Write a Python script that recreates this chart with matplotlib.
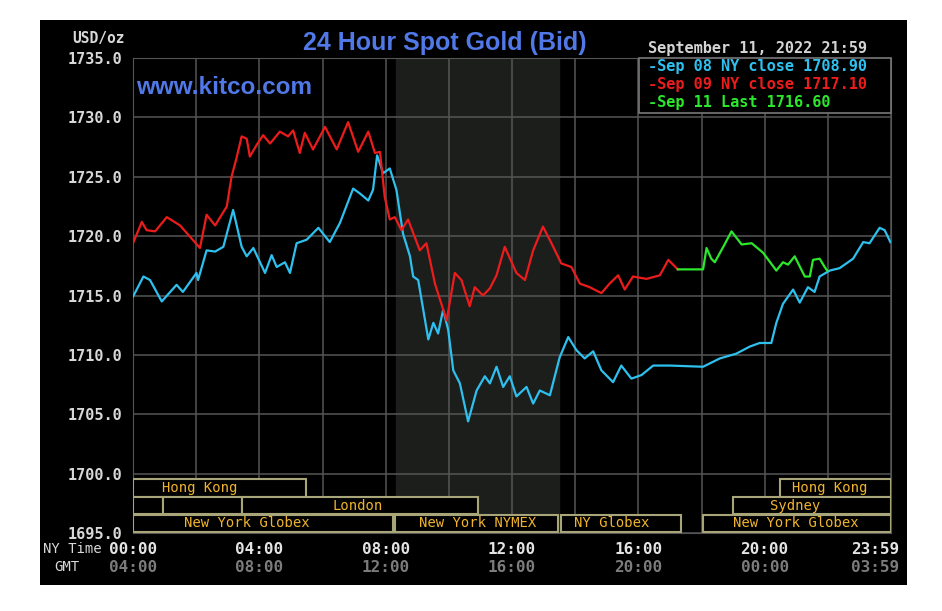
import matplotlib
matplotlib.use("Agg")
import matplotlib.pyplot as plt
from matplotlib.patches import Rectangle

# Sep 08 NY close (cyan), hours NY time / price
sep08_hours = [0.0, 0.33, 0.54, 0.91, 1.38, 1.58, 2.01, 2.06, 2.33, 2.6, 2.86, 3.17, 3.44, 3.6,
               3.81, 4.18, 4.39, 4.55, 4.81, 4.97, 5.18, 5.5, 5.87, 6.23, 6.55, 6.97, 7.18, 7.45,
               7.6, 7.73, 7.92, 8.13, 8.34, 8.55, 8.77, 8.87, 9.03, 9.35, 9.51, 9.66, 9.82, 9.98,
               10.14, 10.35, 10.61, 10.88, 11.14, 11.3, 11.51, 11.72, 11.93, 12.14, 12.46, 12.67,
               12.88, 13.2, 13.51, 13.78, 14.04, 14.3, 14.57, 14.83, 15.2, 15.46, 15.78, 16.1,
               16.47, 17.0, 18.05, 18.58, 19.1, 19.53, 19.84, 20.21, 20.37, 20.58, 20.9, 21.11,
               21.37, 21.58, 21.74, 22.06, 22.37, 22.64, 22.8, 23.12, 23.32, 23.64, 23.8, 23.98]
sep08_price = [1714.9, 1716.6, 1716.3, 1714.5, 1715.9, 1715.3, 1716.9, 1716.3, 1718.8, 1718.7,
               1719.1, 1722.2, 1719.1, 1718.3, 1719.0, 1716.9, 1718.4, 1717.4, 1717.8, 1716.9,
               1719.4, 1719.7, 1720.7, 1719.5, 1721.1, 1724.0, 1723.6, 1723.0, 1723.9, 1726.8,
               1725.3, 1725.7, 1723.9, 1720.2, 1718.3, 1716.6, 1716.3, 1711.3, 1712.7, 1711.8,
               1713.8, 1712.1, 1708.7, 1707.6, 1704.4, 1707.0, 1708.2, 1707.6, 1709.0, 1707.3,
               1708.2, 1706.5, 1707.3, 1705.9, 1707.0, 1706.6, 1709.8, 1711.5, 1710.4, 1709.7,
               1710.3, 1708.7, 1707.7, 1709.1, 1708.0, 1708.3, 1709.1, 1709.1, 1709.0, 1709.7,
               1710.1, 1710.7, 1711.0, 1711.0, 1712.7, 1714.3, 1715.5, 1714.4, 1715.7, 1715.3,
               1716.6, 1717.1, 1717.3, 1717.8, 1718.1, 1719.5, 1719.4, 1720.7, 1720.5, 1719.5]

# Sep 09 NY close (red)
sep09_hours = [0.0, 0.28, 0.43, 0.7, 1.07, 1.49, 2.12, 2.33, 2.6, 2.97, 3.12, 3.28, 3.44, 3.6,
               3.7, 3.92, 4.12, 4.34, 4.65, 4.91, 5.07, 5.28, 5.44, 5.7, 6.08, 6.45, 6.81, 7.13,
               7.45, 7.66, 7.82, 7.97, 8.13, 8.29, 8.5, 8.71, 9.08, 9.29, 9.56, 9.93, 10.19, 10.4,
               10.66, 10.82, 11.08, 11.3, 11.51, 11.77, 12.14, 12.41, 12.67, 12.98, 13.25, 13.56,
               13.88, 14.15, 14.46, 14.83, 15.09, 15.36, 15.57, 15.83, 16.26, 16.68, 16.95, 17.25]
sep09_price = [1719.4, 1721.2, 1720.5, 1720.4, 1721.6, 1720.9, 1719.0, 1721.8, 1720.9, 1722.5,
               1725.0, 1726.6, 1728.4, 1728.2, 1726.7, 1727.7, 1728.5, 1727.8, 1728.8, 1728.4,
               1728.9, 1727.0, 1728.7, 1727.3, 1729.2, 1727.3, 1729.6, 1727.1, 1728.8, 1727.0,
               1727.1, 1723.3, 1721.4, 1721.6, 1720.5, 1721.4, 1718.8, 1719.4, 1716.0, 1712.9,
               1716.9, 1716.3, 1714.1, 1715.7, 1715.0, 1715.6, 1716.7, 1719.1, 1716.9, 1716.3,
               1718.8, 1720.8, 1719.4, 1717.7, 1717.4, 1716.0, 1715.7, 1715.2, 1716.0, 1716.7,
               1715.5, 1716.6, 1716.4, 1716.7, 1718.0, 1717.2]

# Sep 11 last (green)
sep11_hours = [17.25, 18.05, 18.16, 18.31, 18.42, 18.69, 18.95, 19.27, 19.59, 19.95, 20.37,
               20.58, 20.74, 20.95, 21.27, 21.43, 21.53, 21.74, 21.9, 21.98]
sep11_price = [1717.2, 1717.2, 1719.0, 1718.1, 1717.8, 1719.1, 1720.4, 1719.3, 1719.4, 1718.6,
               1717.1, 1717.8, 1717.6, 1718.3, 1716.6, 1716.6, 1718.0, 1718.1, 1717.4, 1717.1]

legend_labels = ["-Sep 08 NY close 1708.90", "-Sep 09 NY close 1717.10", "-Sep 11 Last 1716.60"]

# market sessions: row (0 = top), start hour, end hour, name
session_rows = [0, 0, 1, 1, 1, 1, 2, 2, 2, 2]
session_starts = [0.0, 20.5, 0.0, 0.95, 3.45, 19.0, 0.0, 8.3, 13.55, 18.05]
session_ends = [5.48, 24.0, 0.95, 3.45, 10.93, 24.0, 8.23, 13.46, 17.35, 24.0]
session_names = ["Hong Kong", "Hong Kong", "", "", "London", "Sydney",
                 "New York Globex", "New York NYMEX", "NY Globex", "New York Globex"]
session_label_x = [2.12, 22.07, 0, 0, 7.12, 20.96, 3.6, 10.9, 15.17, 21.0]

ny_ticks = [0, 4, 8, 12, 16, 20, 24]
ny_labels = ["00:00", "04:00", "08:00", "12:00", "16:00", "20:00", "23:59"]
gmt_labels = ["04:00", "08:00", "12:00", "16:00", "20:00", "00:00", "03:59"]

W, H = 942, 611


def fx(x):
    return x / W


def fy(y):
    return 1 - y / H


fig = plt.figure(figsize=(9.42, 6.11), dpi=100, facecolor="white")
fig.add_artist(Rectangle((fx(40), fy(585)), fx(907) - fx(40), fy(20) - fy(585),
                         transform=fig.transFigure, facecolor="black", edgecolor="none", zorder=0))

ax = fig.add_axes([fx(133), fy(533), fx(891) - fx(133), fy(58) - fy(533)])
ax.set_facecolor("black")
ax.set_xlim(0, 24)
ax.set_ylim(1695, 1735)

grid_col = "#555555"
ax.axvspan(8.33, 13.5, color="#1c1e1c", zorder=0)
for h in range(0, 25, 2):
    ax.axvline(h, color=grid_col, lw=1.1, zorder=1)
for v in range(1695, 1736, 5):
    ax.axhline(v, color=grid_col, lw=1.1, zorder=1)
for s in ax.spines.values():
    s.set_color(grid_col)

ax.plot(sep08_hours, sep08_price, color="#2ec0ee", lw=1.6, zorder=3)
ax.plot(sep09_hours, sep09_price, color="#ec1c1c", lw=1.6, zorder=3)
ax.plot(sep11_hours, sep11_price, color="#2ce82c", lw=1.6, zorder=4)

# session boxes
row_bounds = [(1698.05, 1699.55), (1696.6, 1698.0), (1695.1, 1696.55)]
for r, a, b, name, lx in zip(session_rows, session_starts, session_ends, session_names, session_label_x):
    lo, hi = row_bounds[r]
    ax.add_patch(Rectangle((a, lo), b - a, hi - lo, facecolor="black",
                           edgecolor="#a8a678", lw=1.5, zorder=5))
    if name:
        ax.text(lx, (lo + hi) / 2, name, color="#f0b42c", fontsize=10,
                family="DejaVu Sans Mono", ha="center", va="center", zorder=6)

# legend box
ax.add_patch(Rectangle((16.02, 1730.37), 24 - 16.02, 1735 - 1730.37, facecolor="black",
                       edgecolor="#777777", lw=1.2, zorder=7, clip_on=False))
for i, (lab, col) in enumerate(zip(legend_labels, ["#2ec0ee", "#ec1c1c", "#2ce82c"])):
    fig.text(fx(648), fy(67 + i * 17.5), lab, color=col, fontsize=11, weight="bold",
             family="DejaVu Sans Mono", va="center", ha="left", zorder=8)

ax.set_xticks([])
ax.set_yticks(range(1695, 1736, 5))
ax.set_yticklabels([f"{v:.1f}" for v in range(1695, 1736, 5)])
ax.tick_params(axis="y", length=0, pad=8, colors="#d8d8d8", labelsize=11)
for t in ax.get_yticklabels():
    t.set_family("DejaVu Sans Mono")
    t.set_weight("bold")

# time axis labels
for h, a, b in zip(ny_ticks, ny_labels, gmt_labels):
    x = fx(133 + h * 31.58)
    ha = "center"
    if h == 24:
        x, ha = fx(899), "right"
    fig.text(x, fy(549), a, color="#e4e4e4", fontsize=11.5, weight="bold",
             family="DejaVu Sans Mono", ha=ha, va="center")
    fig.text(x, fy(567), b, color="#7c7c7c", fontsize=11.5, weight="bold",
             family="DejaVu Sans Mono", ha=ha, va="center")
fig.text(fx(102), fy(549), "NY Time", color="#d8d8d8", fontsize=10,
         family="DejaVu Sans Mono", ha="right", va="center")
fig.text(fx(67), fy(567), "GMT", color="#d8d8d8", fontsize=10,
         family="DejaVu Sans Mono", ha="center", va="center")

fig.text(fx(125), fy(39), "USD/oz", color="#d8d8d8", fontsize=10.5, weight="bold",
         family="DejaVu Sans Mono", ha="right", va="center")
fig.text(fx(445), fy(43), "24 Hour Spot Gold (Bid)", color="#5078e6", fontsize=18,
         weight="bold", family="Liberation Sans", ha="center", va="center")
fig.text(fx(136), fy(88), "www.kitco.com", color="#5078e6", fontsize=17.5,
         weight="bold", family="Liberation Sans", ha="left", va="center", zorder=8)
fig.text(fx(648), fy(48), "September 11, 2022 21:59", color="#d4d4d4", fontsize=11,
         weight="bold", family="DejaVu Sans Mono", ha="left", va="center")

fig.savefig("out.png", dpi=100, facecolor="white")
